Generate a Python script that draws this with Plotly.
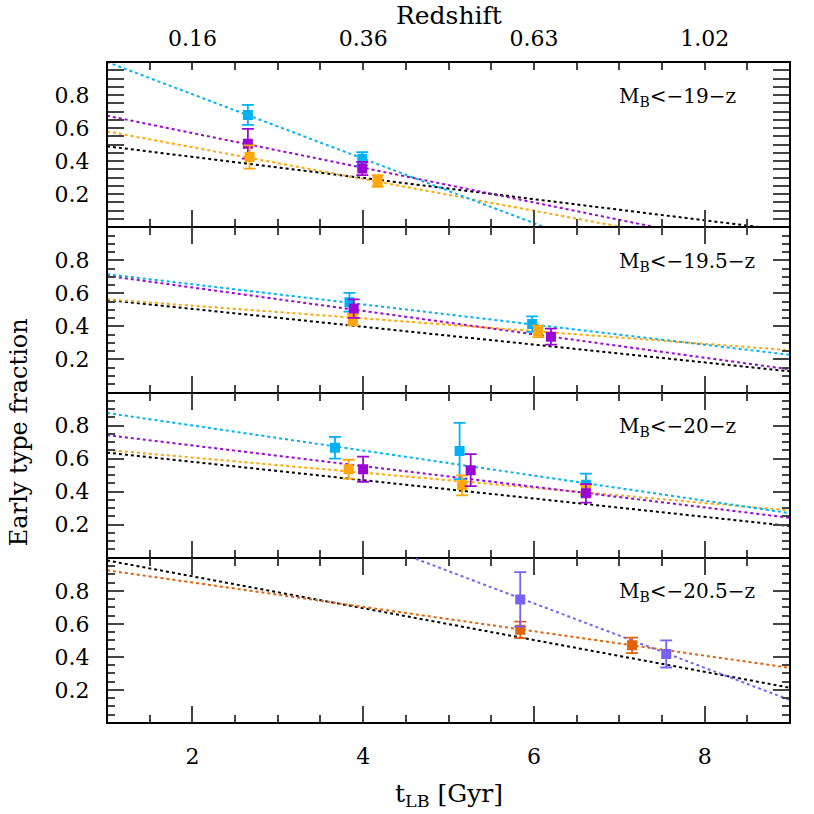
import numpy as np
import plotly.graph_objects as go
from plotly.subplots import make_subplots

# ось времени (лукбэк, Гyr) и подписи красного смещения сверху
t_range = [1, 9]
z_tick_t = [2, 4, 6, 8]
z_tick_text = ["0.16", "0.36", "0.63", "1.02"]
frac_ticks = [0.2, 0.4, 0.6, 0.8]

panel_labels = ["M<sub>B</sub>&lt;−19−z", "M<sub>B</sub>&lt;−19.5−z",
                "M<sub>B</sub>&lt;−20−z", "M<sub>B</sub>&lt;−20.5−z"]

CYAN = "#00B2F5"
PURPLE = "#9A06D4"
ORANGE = "#FFA60A"
BLACK = "#000000"
DORANGE = "#E2620C"
SLATE = "#7A62F0"

# --- панель 1: M_B < -19 - z ---
p1_cyan_t = [2.65, 3.99]
p1_cyan_f = [0.68, 0.415]
p1_cyan_e = [0.06, 0.04]
p1_purple_t = [2.65, 3.99]
p1_purple_f = [0.505, 0.355]
p1_purple_e = [0.09, 0.04]
p1_orange_t = [2.67, 4.17]
p1_orange_f = [0.425, 0.28]
p1_orange_e = [0.07, 0.035]
# линейные фиты: (свободный член, наклон)
p1_fits = {"black": (0.554, -0.064), "orange": (0.676, -0.096),
           "purple": (0.78, -0.105), "cyan": (1.195, -0.195)}

# --- панель 2: M_B < -19.5 - z ---
p2_cyan_t = [3.84, 5.98]
p2_cyan_f = [0.546, 0.414]
p2_cyan_e = [0.057, 0.047]
p2_purple_t = [3.89, 6.2]
p2_purple_f = [0.508, 0.338]
p2_purple_e = [0.056, 0.048]
p2_orange_t = [3.88, 6.05]
p2_orange_f = [0.44, 0.37]
p2_orange_e = [0.034, 0.035]
p2_fits = {"black": (0.614, -0.054), "orange": (0.6025, -0.0385),
           "purple": (0.777, -0.0708), "cyan": (0.777, -0.061)}

# --- панель 3: M_B < -20 - z ---
p3_cyan_t = [3.67, 5.13, 6.61]
p3_cyan_f = [0.666, 0.646, 0.442]
p3_cyan_e = [0.066, 0.17, 0.067]
p3_orange_t = [3.83, 5.16, 6.61]
p3_orange_f = [0.536, 0.438, 0.41]
p3_orange_e = [0.057, 0.06, 0.03]
p3_purple_t = [4.0, 5.26, 6.61]
p3_purple_f = [0.536, 0.53, 0.39]
p3_purple_e = [0.076, 0.097, 0.056]
p3_fits = {"black": (0.6915, -0.0555), "orange": (0.698, -0.0458),
           "purple": (0.8045, -0.0625), "cyan": (0.952, -0.0758)}

# --- панель 4: M_B < -20.5 - z ---
p4_orange_t = [5.84, 7.15]
p4_orange_f = [0.564, 0.47]
p4_orange_e = [0.05, 0.047]
p4_slate_t = [5.84, 7.55]
p4_slate_f = [0.748, 0.418]
p4_slate_e = [0.165, 0.082]
p4_fits = {"black": (1.08, -0.0963), "dorange": (0.998, -0.0738),
           "slate": (1.894, -0.195)}

colors = {"black": BLACK, "orange": ORANGE, "purple": PURPLE, "cyan": CYAN,
          "dorange": DORANGE, "slate": SLATE}

panels = [
    (p1_fits, [(p1_cyan_t, p1_cyan_f, p1_cyan_e, CYAN),
               (p1_purple_t, p1_purple_f, p1_purple_e, PURPLE),
               (p1_orange_t, p1_orange_f, p1_orange_e, ORANGE)]),
    (p2_fits, [(p2_cyan_t, p2_cyan_f, p2_cyan_e, CYAN),
               (p2_orange_t, p2_orange_f, p2_orange_e, ORANGE),
               (p2_purple_t, p2_purple_f, p2_purple_e, PURPLE)]),
    (p3_fits, [(p3_cyan_t, p3_cyan_f, p3_cyan_e, CYAN),
               (p3_orange_t, p3_orange_f, p3_orange_e, ORANGE),
               (p3_purple_t, p3_purple_f, p3_purple_e, PURPLE)]),
    (p4_fits, [(p4_orange_t, p4_orange_f, p4_orange_e, DORANGE),
               (p4_slate_t, p4_slate_f, p4_slate_e, SLATE)]),
]

FONT = "DejaVu Serif"

fig = make_subplots(rows=4, cols=1, shared_xaxes=True, vertical_spacing=0)

t_line = np.array(t_range, dtype=float)
for i, (fits, pts) in enumerate(panels):
    row = i + 1
    for key, (a, b) in fits.items():
        fig.add_trace(go.Scatter(x=t_line, y=a + b * t_line, mode="lines",
                                 line=dict(color=colors[key], width=2, dash="dot"),
                                 showlegend=False, hoverinfo="skip"),
                      row=row, col=1)
    for t, f, e, c in pts:
        fig.add_trace(go.Scatter(x=t, y=f, mode="markers",
                                 marker=dict(symbol="square", size=10, color=c),
                                 error_y=dict(type="data", array=e, color=c,
                                              thickness=1.8, width=6),
                                 showlegend=False),
                      row=row, col=1)
    fig.add_annotation(x=6.97, y=0.79, xref=f"x{row}", yref=f"y{row}",
                       text=panel_labels[i], showarrow=False, xanchor="left",
                       font=dict(family=FONT, size=20, color="black"))

    fig.update_yaxes(range=[0, 1], tickmode="array", tickvals=frac_ticks,
                     ticks="inside", ticklen=17, tickwidth=1.5, mirror="allticks",
                     showline=True, linecolor="black", linewidth=1,
                     showgrid=False, zeroline=False, automargin=False,
                     minor=dict(ticks="inside", dtick=0.05, tick0=0, ticklen=8,
                                tickwidth=1.5, showgrid=False),
                     tickfont=dict(family=FONT, size=22, color="black"),
                     ticklabelstandoff=12,
                     row=row, col=1)
    fig.update_xaxes(range=t_range, tickmode="linear", tick0=0, dtick=2,
                     ticks="inside", ticklen=17, tickwidth=1.5,
                     mirror=True if row == 1 else "allticks",
                     showline=True, linecolor="black", linewidth=1,
                     showgrid=False, zeroline=False, automargin=False,
                     minor=dict(ticks="inside", dtick=0.5, tick0=0, ticklen=8,
                                tickwidth=1.5, showgrid=False),
                     tickfont=dict(family=FONT, size=22, color="black"),
                     ticklabelstandoff=14,
                     row=row, col=1)

# верхняя ось: красное смещение
top_vals = list(np.arange(1.5, 9.0, 0.5))
top_text = [z_tick_text[z_tick_t.index(v)] if v in z_tick_t else "" for v in top_vals]
fig.add_trace(go.Scatter(x=[None], y=[None], xaxis="x5", yaxis="y",
                         showlegend=False, hoverinfo="skip"))
fig.update_layout(xaxis5=dict(overlaying="x", anchor="y", side="top",
                              range=t_range, tickmode="array", tickvals=top_vals,
                              ticktext=top_text, ticks="inside", ticklen=8,
                              tickwidth=1.5, showgrid=False, zeroline=False,
                              showline=True, linecolor="black", linewidth=1,
                              automargin=False,
                              tickfont=dict(family=FONT, size=22, color="black"),
                              ticklabelstandoff=6))

# внешняя рамка
fig.add_shape(type="rect", xref="paper", yref="paper", x0=0, x1=1, y0=0, y1=1,
              line=dict(color="black", width=2), layer="above")

fig.add_annotation(x=0.5, y=(723 - 16) / 661, xref="paper", yref="paper",
                   text="Redshift", showarrow=False, yanchor="middle",
                   xanchor="center",
                   font=dict(family=FONT, size=25, color="black"))
fig.add_annotation(x=0.5, y=(723 - 795) / 661, xref="paper", yref="paper",
                   text="t<sub>LB</sub> [Gyr]", showarrow=False, yanchor="middle",
                   xanchor="center",
                   font=dict(family=FONT, size=25, color="black"))
fig.add_annotation(x=(19 - 107) / 683, y=0.44, xref="paper", yref="paper",
                   text="Early type fraction", showarrow=False, textangle=-90,
                   xanchor="center", yanchor="middle",
                   font=dict(family=FONT, size=24, color="black"))

fig.update_layout(width=814, height=814,
                  margin=dict(l=107, r=24, t=62, b=91),
                  plot_bgcolor="white", paper_bgcolor="white")

fig.write_html("out.html", config={"displayModeBar": False},
               post_script="document.body.style.margin='0';")
